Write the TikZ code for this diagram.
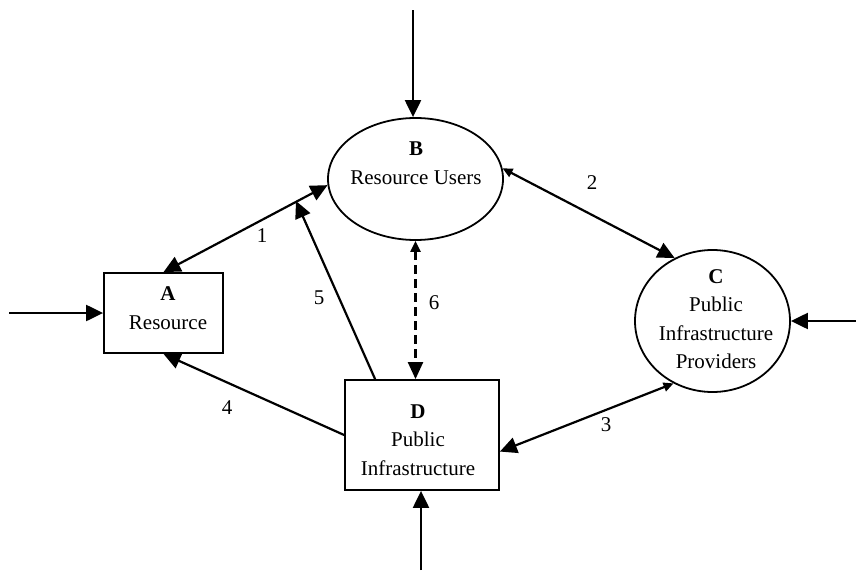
\documentclass[tikz,border=0pt]{standalone}
\usepackage{fontspec}
\setmainfont{Liberation Serif}
\usetikzlibrary{arrows.meta,shapes.geometric,calc}
\begin{document}
\begin{tikzpicture}[x=1pt,y=-1pt,
  shapeline/.style={draw=black,line width=1.8pt,inner sep=0pt},
  boxnode/.style={shapeline,rectangle},
  ovalnode/.style={shapeline,ellipse},
  txt/.style={font=\fontsize{21}{28.5}\selectfont,align=center,inner sep=0pt},
  lbl/.style={font=\fontsize{21}{25}\selectfont,inner sep=0pt},
  conn/.style={line width=2.2pt},
  bigtip/.tip={Triangle[length=17pt,width=16pt]},
  smalltip/.tip={Triangle[length=10pt,width=9pt]}
]
\useasboundingbox (0,0) rectangle (856,570);
% shapes
\node[boxnode,minimum width=119pt,minimum height=80pt] (A) at (163.5,313) {};
\node[ovalnode,minimum width=175pt,minimum height=122pt] (B) at (415.5,179) {};
\node[ovalnode,minimum width=155pt,minimum height=142pt] (C) at (712.5,321) {};
\node[boxnode,minimum width=154pt,minimum height=110pt] (D) at (422,435) {};
% texts
\node[txt] (At) at (168,308) {\textbf{A}\\Resource};
\node[txt] (Bt) at (416,163) {\textbf{B}\\Resource Users};
\node[txt] (Ct) at (716,319) {\textbf{C}\\Public\\Infrastructure\\Providers};
\node[txt] (Dt) at (418,440) {\textbf{D}\\Public\\Infrastructure};
% external inputs
\coordinate (inA) at (9,313);
\coordinate (inB) at (413,10);
\coordinate (inC) at (856,321);
\coordinate (inD) at (421,570);
\draw[conn,-bigtip] (inA) -- (A.west);
\draw[conn,-bigtip] (inB) -- (inB |- B.north);
\draw[conn,-bigtip] (inC) -- (C.east);
\draw[conn,-bigtip] (inD) -- (inD |- D.south);
% connectors
\draw[conn,bigtip-bigtip] (A.north) -- (B.184);
\draw[conn,smalltip-bigtip] (B.7) -- (C.121.6);
\draw[conn,bigtip-smalltip] (D.-12.4) -- (C.238.4);
\draw[conn,-bigtip] (D.west) -- (A.south);
\coordinate (p5) at (296,201);
\draw[conn,-bigtip] (D.130.5) -- (p5);
\draw[conn,dashed,dash pattern=on 9pt off 5pt,{Triangle[length=11pt,width=10pt]}-{Triangle[length=17pt,width=15pt]}] (B.south) -- (B.south |- D.north);
% labels
\node[lbl] (l1) at (262,236) {1};
\node[lbl] (l2) at (592,183) {2};
\node[lbl] (l3) at (606,425) {3};
\node[lbl] (l4) at (227,408) {4};
\node[lbl] (l5) at (319,298) {5};
\node[lbl] (l6) at (434,303) {6};
\end{tikzpicture}
\end{document}
